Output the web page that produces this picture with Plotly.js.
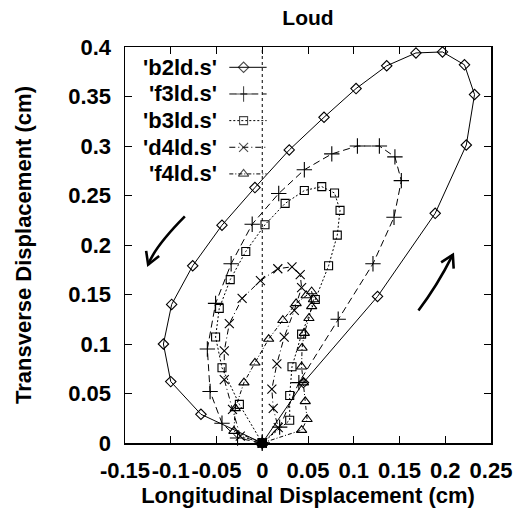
<!DOCTYPE html>
<html>
<head>
<meta charset="utf-8">
<script src="https://cdn.plot.ly/plotly-3.0.1.min.js"></script>
<style>html,body{margin:0;padding:0;background:#fff;}#chart{width:516px;height:510px;}</style>
</head>
<body>
<div id="chart"></div>
<script>
// ---- data ----
const seriesNames = ["'b2ld.s'", "'f3ld.s'", "'b3ld.s'", "'d4ld.s'", "'f4ld.s'"];

const b2X = [0, 0.045, 0.126, 0.189, 0.223, 0.232, 0.221, 0.197, 0.168, 0.136, 0.1025, 0.0675, 0.0295, -0.008, -0.044, -0.076, -0.099, -0.108, -0.100, -0.067, 0];
const b2Y = [0, 0.061, 0.148, 0.232, 0.301, 0.352, 0.382, 0.395, 0.394, 0.381, 0.358, 0.329, 0.296, 0.258, 0.220, 0.179, 0.140, 0.100, 0.062, 0.029, 0];

const f3X = [0, 0.019, 0.040, 0.083, 0.121, 0.144, 0.152, 0.145, 0.128, 0.104, 0.076, 0.046, 0.018, -0.011, -0.034, -0.051, -0.060, -0.057, -0.044, -0.027, 0];
const f3Y = [0, 0.016, 0.061, 0.125, 0.181, 0.228, 0.265, 0.289, 0.300, 0.300, 0.292, 0.276, 0.252, 0.221, 0.181, 0.141, 0.095, 0.052, 0.020, 0.005, 0];

const b3X = [0, 0.030, 0.030, 0.0325, 0.043, 0.058, 0.0725, 0.082, 0.085, 0.079, 0.065, 0.046, 0.025, 0.003, -0.018, -0.035, -0.047, -0.051, -0.044, -0.025, 0];
const b3Y = [0, 0.023, 0.048, 0.077, 0.110, 0.145, 0.179, 0.210, 0.235, 0.2525, 0.259, 0.255, 0.242, 0.2205, 0.1935, 0.165, 0.136, 0.107, 0.076, 0.039, 0];

const d4X = [0, 0.0175, 0.012, 0.0105, 0.016, 0.024, 0.035, 0.043, 0.0415, 0.0325, 0.017, -0.002, -0.022, -0.036, -0.0415, -0.0415, -0.0325, -0.024, 0];
const d4Y = [0, 0.0155, 0.035, 0.0545, 0.080, 0.107, 0.134, 0.157, 0.170, 0.178, 0.176, 0.164, 0.146, 0.1205, 0.093, 0.064, 0.034, 0.007, 0];

const f4X = [0, 0.043, 0.049, 0.047, 0.045, 0.043, 0.0435, 0.046, 0.051, 0.054, 0.056, 0.054, 0.048, 0.037, 0.0225, 0.007, -0.008, -0.020, -0.0295, -0.031, 0];
const f4Y = [0, 0.013, 0.024, 0.042, 0.061, 0.077, 0.096, 0.111, 0.126, 0.138, 0.145, 0.153, 0.149, 0.141, 0.124, 0.105, 0.081, 0.061, 0.035, 0.012, 0];

const originX = [0];
const originY = [0];

const xTicks = [-0.15, -0.1, -0.05, 0, 0.05, 0.1, 0.15, 0.2, 0.25];
const xTickText = ["-0.15", "-0.1", "-0.05", "0", "0.05", "0.1", "0.15", "0.2", "0.25"];
const yTicks = [0, 0.05, 0.1, 0.15, 0.2, 0.25, 0.3, 0.35, 0.4];
const yTickText = ["0", "0.05", "0.1", "0.15", "0.2", "0.25", "0.3", "0.35", "0.4"];

// ---- styles ----
const FONT = 'Liberation Sans, Arial, Helvetica, sans-serif';
const allX = [b2X, f3X, b3X, d4X, f4X];
const allY = [b2Y, f3Y, b3Y, d4Y, f4Y];
const styles = [
  {dash: 'solid', symbol: 'diamond-open', size: 8},
  {dash: '7px,4px', symbol: 'cross-thin-open', size: 11},
  {dash: '2px,2px', symbol: 'square-open', size: 8},
  {dash: '6px,3px,1px,3px', symbol: 'x-thin-open', size: 9},
  {dash: '4px,2px,1px,2px', symbol: 'triangle-up-open', size: 9}
];

const traces = [];
for (let i = 0; i < 5; i++) {
  traces.push({
    type: 'scatter', mode: 'lines+markers',
    x: allX[i], y: allY[i], name: seriesNames[i], showlegend: false,
    line: {color: '#000', width: 1, dash: styles[i].dash},
    marker: {symbol: styles[i].symbol, size: styles[i].size, color: '#000', line: {color: '#000', width: 1.1}},
    cliponaxis: false
  });
}
traces.push({
  type: 'scatter', mode: 'markers', x: originX, y: originY, showlegend: false,
  marker: {symbol: 'square', size: 9, color: '#000'}, cliponaxis: false
});

// ---- gnuplot-style key (text right of sample) ----
const annotations = [];
const keyTop = 0.9487, keyStep = 0.0673;
const keyTextX = 0.2577, keyL0 = 0.285, keyL1 = 0.387;
for (let i = 0; i < 5; i++) {
  const yy = keyTop - i * keyStep;
  annotations.push({
    xref: 'paper', yref: 'paper', x: keyTextX, y: yy, xanchor: 'right', yanchor: 'middle',
    text: seriesNames[i], showarrow: false,
    font: {family: FONT, size: 22, color: '#000', weight: 'bold'}
  });
  traces.push({
    type: 'scatter', mode: 'lines+markers', xaxis: 'x2', yaxis: 'y2', showlegend: false,
    x: [keyL0, (keyL0 + keyL1) / 2 - 0.012, keyL1], y: [yy, yy, yy],
    line: {color: '#000', width: 1, dash: styles[i].dash},
    marker: {symbol: styles[i].symbol, size: [0, styles[i].size, 0], color: '#000', line: {color: '#000', width: 1.1}},
    hoverinfo: 'skip'
  });
}

// ---- arrows (decorations) ----
const shapes = [
  {type: 'line', xref: 'x', yref: 'paper', x0: 0, x1: 0, y0: 0, y1: 1, line: {color: '#000', width: 1, dash: 'dot'}, layer: 'below'},
  {type: 'path', xref: 'x', yref: 'y', path: 'M -0.0846,0.2289 Q -0.1171,0.1986 -0.1247,0.1801', line: {color: '#000', width: 2.6}},
  {type: 'path', xref: 'x', yref: 'y', path: 'M -0.1127,0.1889 L -0.1247,0.1801 L -0.1269,0.1941', line: {color: '#000', width: 2.6}},
  {type: 'path', xref: 'x', yref: 'y', path: 'M 0.1707,0.1339 Q 0.1911,0.1585 0.2083,0.1902', line: {color: '#000', width: 2.6}},
  {type: 'path', xref: 'x', yref: 'y', path: 'M 0.2092,0.1761 L 0.2083,0.1902 L 0.1955,0.1824', line: {color: '#000', width: 2.6}}
];

const tickFont = {family: FONT, size: 22, color: '#000', weight: 'bold'};
const layout = {
  width: 516, height: 510,
  margin: {l: 125, r: 25, t: 47, b: 67},
  paper_bgcolor: '#fff', plot_bgcolor: '#fff',
  showlegend: false,
  title: {text: 'Loud', font: {family: FONT, size: 21, color: '#000', weight: 'bold'},
          x: 0.5, xref: 'paper', xanchor: 'center', y: 0.965, yref: 'container', yanchor: 'middle'},
  xaxis: {
    range: [-0.15, 0.25], tickmode: 'array', tickvals: xTicks, ticktext: xTickText, tickangle: 0,
    ticks: 'inside', ticklen: 7, tickcolor: '#000', tickwidth: 1,
    showline: true, linecolor: '#000', linewidth: 1.5, mirror: 'ticks',
    showgrid: false, zeroline: false, tickfont: tickFont, ticklabelstandoff: 7,
    title: {text: 'Longitudinal Displacement (cm)', font: {family: FONT, size: 22, color: '#000', weight: 'bold'}, standoff: 2}
  },
  yaxis: {
    range: [0, 0.4], tickmode: 'array', tickvals: yTicks, ticktext: yTickText,
    ticks: 'inside', ticklen: 7, tickcolor: '#000', tickwidth: 1,
    showline: true, linecolor: '#000', linewidth: 1.5, mirror: 'ticks',
    showgrid: false, zeroline: false, tickfont: tickFont, ticklabelstandoff: 8,
    title: {text: 'Transverse Displacement (cm)', font: {family: FONT, size: 22, color: '#000', weight: 'bold'}, standoff: 30}
  },
  xaxis2: {overlaying: 'x', range: [0, 1], visible: false, fixedrange: true},
  yaxis2: {overlaying: 'y', range: [0, 1], visible: false, fixedrange: true},
  annotations: annotations,
  shapes: shapes
};

Plotly.newPlot('chart', traces, layout, {staticPlot: true, displayModeBar: false});
</script>
</body>
</html>
